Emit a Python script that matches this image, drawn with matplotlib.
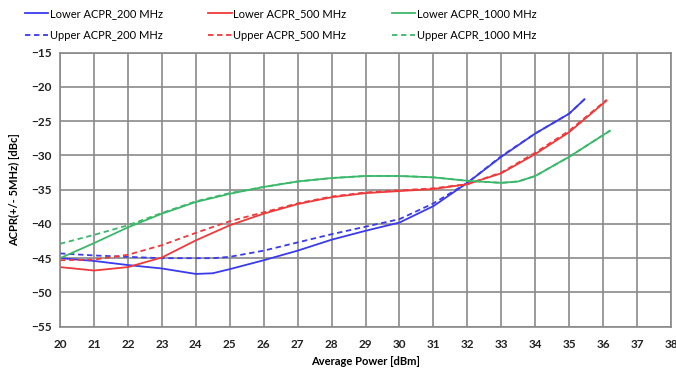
import matplotlib
matplotlib.use("Agg")
import matplotlib.pyplot as plt

plt.rcParams['font.family'] = ['Lato', 'DejaVu Sans']

x_b = [20, 21, 22, 23, 24, 24.5, 25, 26, 27, 28, 29, 30, 31, 32, 33, 34, 35, 35.45]
lower_200 = [-45.0, -45.4, -46.0, -46.5, -47.3, -47.2, -46.6, -45.3, -43.9, -42.3, -41.0, -39.8, -37.4, -34.0, -30.2, -26.8, -23.9, -21.8]
upper_200 = [-44.3, -44.6, -44.8, -45.0, -45.0, -45.0, -44.8, -43.9, -42.7, -41.5, -40.4, -39.3, -37.0, -34.0, -30.1, -26.8, -23.9, -21.8]

x_r = [20, 21, 22, 23, 24, 25, 26, 27, 28, 29, 30, 31, 32, 33, 34, 35, 36.1]
lower_500 = [-46.3, -46.8, -46.3, -44.9, -42.4, -40.2, -38.5, -37.1, -36.1, -35.5, -35.2, -34.9, -34.2, -32.6, -29.8, -26.6, -22.0]
upper_500 = [-45.3, -45.2, -44.5, -43.1, -41.3, -39.6, -38.3, -37.0, -36.0, -35.4, -35.1, -34.8, -34.2, -32.5, -29.6, -26.4, -21.9]

x_g = [20, 21, 22, 23, 24, 25, 26, 27, 28, 29, 30, 31, 32, 33, 33.5, 34, 35, 36.2]
lower_1000 = [-45.0, -42.8, -40.5, -38.5, -36.8, -35.6, -34.6, -33.8, -33.3, -33.0, -33.0, -33.2, -33.7, -34.0, -33.8, -33.0, -30.2, -26.4]
upper_1000 = [-42.9, -41.6, -40.2, -38.4, -36.7, -35.5, -34.6, -33.8, -33.3, -33.0, -33.0, -33.2, -33.7, -34.0, -33.8, -33.0, -30.2, -26.4]

xticks = list(range(20, 39))
yticks = list(range(-55, -14, 5))

fig = plt.figure(figsize=(6.76, 3.71), dpi=100)
ax = fig.add_axes([0.0888, 0.1194, 0.9038, 0.7386])

blue, red, green = '#3a3aee', '#f03a3a', '#3cb86a'
lw = 1.3
l1, = ax.plot(x_b, lower_200, color=blue, lw=lw, label='Lower ACPR_200 MHz')
u1, = ax.plot(x_b, upper_200, color=blue, lw=lw, ls=(0, (3, 2)), label='Upper ACPR_200 MHz')
l2, = ax.plot(x_r, lower_500, color=red, lw=lw, label='Lower ACPR_500 MHz')
u2, = ax.plot(x_r, upper_500, color=red, lw=lw, ls=(0, (3, 2)), label='Upper ACPR_500 MHz')
l3, = ax.plot(x_g, lower_1000, color=green, lw=lw, label='Lower ACPR_1000 MHz')
u3, = ax.plot(x_g, upper_1000, color=green, lw=lw, ls=(0, (3, 2)), label='Upper ACPR_1000 MHz')

ax.set_xlim(20, 38)
ax.set_ylim(-55, -15)
ax.set_xticks(xticks)
ax.set_yticks(yticks)
ax.grid(True, color='#8a8a8a', lw=1.2)
ax.set_axisbelow(True)
for s in ax.spines.values():
    s.set_color('#8a8a8a')
    s.set_linewidth(1.2)
ax.tick_params(length=0, labelsize=8.5, pad=9)
for t in ax.get_xticklabels() + ax.get_yticklabels():
    t.set_fontweight('bold')
    t.set_color('#222222')
ax.tick_params(axis='y', pad=6)
ax.set_xlabel('Average Power [dBm]', fontsize=8, fontweight='bold', labelpad=4)
ax.set_ylabel('ACPR(+/- 5MHz) [dBc]', fontsize=8, fontweight='bold', labelpad=8)

fig.legend(handles=[l1, u1, l2, u2, l3, u3], ncol=3, loc='upper left',
           bbox_to_anchor=(0.022, 1.005), frameon=False, fontsize=8,
           handlelength=2.1, handletextpad=0.15, columnspacing=4.1,
           labelspacing=0.95)

fig.savefig('out.png', dpi=100)
